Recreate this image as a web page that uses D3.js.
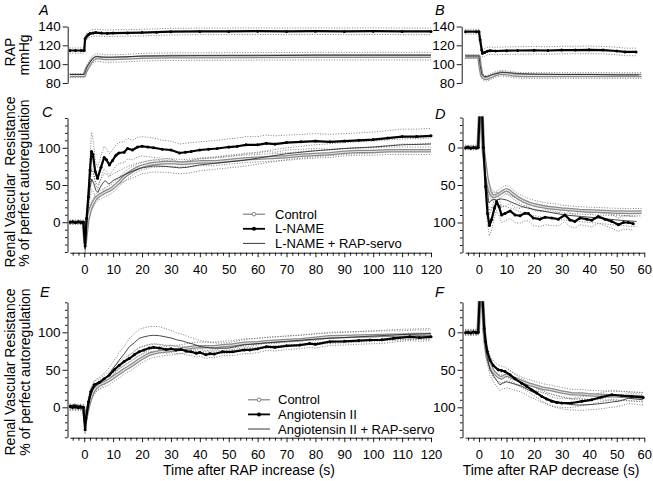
<!DOCTYPE html>
<html><head><meta charset="utf-8">
<script src="https://cdn.jsdelivr.net/npm/d3@7"></script>
<style>
body{margin:0;background:#fff}
svg text{font-family:"Liberation Sans",Arial,Helvetica,sans-serif;fill:#000}
</style>
</head><body>
<svg id="c" width="653" height="481"></svg>
<script>
// ---------- DATA: [time (s), value, SE] ----------
// Panel A: RAP (mmHg) after RAP increase
const aLname = [[-5,114.5,2.7],[-3,114.5,2.7],[-1,114.5,2.7],[0,114.5,2.7],[0.3,127,3.5],[1,130,3.5],[1.5,131.5,3.5],[2,132.5,3.5],[3,133,3.5],[4,133.5,3.5],[6,133,3.5],[8,132.8,3.5],[10,133,3.5],[15,133.2,3.5],[20,133.5,3.5],[25,134,3.5],[30,134.5,3.5],[40,134.8,3.5],[50,134.8,3.5],[60,135,3.5],[70,134.8,3.5],[80,135,3.5],[90,134.8,3.5],[100,135,3.5],[110,134.8,3.5],[120,134.8,3.5]];
const aCtrl = [[-5,88,2],[-3,88,2],[-1,88,2],[0,88,2],[0.3,91,3],[1,96,3.5],[2,101,4],[3,105,4],[4,107,4],[5,107,4],[7,106,4],[10,106,4],[15,106.5,4],[20,107.5,4],[30,108,4],[40,108,4],[60,108.3,4],[80,108.5,4],[100,108.5,4],[120,108.5,4]];
const aServo = [[-5,89],[0,89],[0.5,93],[1,97],[2,102],[3,106],[4,108],[6,107.5],[10,107.5],[20,108.5],[40,109],[60,109],[80,109.5],[100,109.5],[120,109.5]];
// Panel B: RAP (mmHg) after RAP decrease
const bLname = [[-5,134.5,2.5],[-1,134.5,2.5],[0,134.5,2.5],[0.4,126,4],[1,115,4],[1.3,111.5,4],[2,112.5,4],[3,113.8,4],[4,114.3,4],[6,114,4],[10,114.3,4],[14,114.5,4],[20,114.8,4],[25,114.5,4],[30,115,4],[35,115,4],[40,115.2,4],[45,115,4],[50,114,4],[53,113,4],[57,113,4]];
const bCtrl = [[-5,108,2],[-1,108,2],[0,108,2],[0.4,98,3],[1,88,3],[2,85,3],[3,85,3],[4,86.5,3],[6,89,3],[8,90.5,3],[10,90,3],[13,88.5,3],[16,88,3],[20,88,3],[30,88,3],[40,88,3],[50,88,3],[59,88,3]];
const bServo = [[-5,108.5],[0,108.5],[0.4,99],[1,89],[2,86.5],[3,87],[5,89],[8,91],[10,91],[15,90],[20,89.5],[30,89],[40,89],[50,88.5],[58,88.5]];
// Panel C: RVR (% perfect autoregulation) after RAP increase
const cLname = [[-5,0,2],[-4,0.5,2],[-3,-0.5,2],[-2,0.5,2],[-1,-0.5,2],[-0.3,0,2],[0.3,-32,6],[0.8,5,8],[1.4,34,12],[2,70,18],[2.5,95,26],[3,91,22],[3.8,68,16],[4.6,59,15],[5.8,74,15],[6.9,87,15],[7.7,84,15],[8.7,77,15],[9.8,83,14],[11,90,14],[12,93,14],[13.8,94,14],[15,99,14],[16.7,97,13],[18.5,101,13],[20,102,13],[22,101,13],[24,100,13],[27,98,12],[30,97,12],[33,93,12],[35,94,12],[37,95,12],[40,97,11],[43,98,11],[46,99,11],[50,101,11],[53,102,11],[56,104,11],[60,104,11],[63,106,11],[66,105,11],[70,107,10],[75,108,10],[80,109,10],[85,108,10],[90,109,10],[95,110,10],[100,111,10],[105,113,10],[110,115,10],[115,115,10],[120,116,10]];
const cCtrl = [[-5,0,2],[-3,0,2],[-1,0,2],[-0.3,0,2],[0.3,-28,6],[1.2,3,6],[2,16,6],[2.9,25,6],[4,32,6],[5.2,36,6],[6.5,39,6],[7.5,41,6],[8.6,43,6],[9.8,46,6],[11,50,6],[12.1,54,6],[13.2,59,6],[14.4,63,6],[15.5,66,6],[16.7,69,6],[18,72,5],[19,74,5],[20.7,76,5],[22.5,78,5],[25,79,5],[28,80,5],[31,80,5],[34,79,5],[37,80,5],[40,81,5],[45,81,5],[50,83,5],[55,85,5],[60,86,5],[65,87,5],[70,88,5],[75,90,5],[80,91,5],[85,92,5],[90,94,5],[95,95,5],[100,95,5],[105,96,5],[110,96,5],[115,96,5],[120,96,5]];
const cServo = [[-5,0,3],[-2,0,3],[-0.3,0,3],[0.3,-36,6],[1,5,8],[1.5,28,10],[2,45,12],[2.6,58,14],[3.3,52,12],[4,43,10],[4.7,40,10],[5.5,47,10],[6.5,53,10],[7.3,56,10],[8.5,51,10],[10,56,9],[12,60,9],[14,64,9],[17,69,9],[20,73,8],[24,75.5,8],[28,75,8],[33,73,8],[36,74,8],[40,77,8],[45,79,8],[50,81,8],[55,83,8],[60,86,8],[70,92,8],[80,96,8],[90,99,8],[100,101,8],[110,104,8],[120,105,8]];
// Panel D: RVR after RAP decrease
const dLname = [[-5,0.5,2],[-4,-0.5,2],[-3,1,2],[-2,0,2],[-1,0.5,2],[-0.3,0,2],[0.3,-50,10],[1.1,-50,10],[1.6,0,10],[2.4,52,12],[3.1,88,14],[3.8,104,14],[4.6,96,14],[5.6,81,12],[6.4,72,12],[7.3,79,12],[8.2,90,10],[9.4,88,10],[11.3,84.5,10],[13.1,90,10],[14.9,91,10],[16.7,87.5,10],[17.9,88,10],[19.7,94,10],[22.1,95.5,10],[24,93,10],[26.4,94,10],[28.8,95.5,9],[31.2,90,9],[33,96.5,9],[34.8,98.5,9],[36.7,94,9],[39.1,95.5,9],[40.9,97,9],[43.3,92,9],[45.7,95.5,9],[48.2,98.5,9],[50.6,103,9],[52.4,100,9],[54.2,100,9],[56,101.5,9]];
const dCtrl = [[-5,0,2],[-3,0,2],[-1,0,2],[-0.3,0,2],[0.3,-50,8],[1.1,-45,8],[1.6,4,8],[2.2,22,8],[2.8,39,8],[3.4,50,7],[4,59,7],[4.6,63,7],[5.2,65.5,6],[6.4,64,6],[7.3,62,6],[8.2,60,6],[9.1,57.5,6],[10,56.5,6],[11,58,6],[11.9,61,6],[13,64,6],[14.3,67.5,6],[16,71,6],[17.9,74,6],[20,76.5,6],[22.8,78.7,6],[25,80,6],[27.6,81,6],[30,82,5],[33.6,83,5],[36.5,84,5],[39.7,84.5,5],[43,85,5],[45.7,85.4,5],[48.5,86,5],[51.8,86.2,5],[55,86.5,5],[59,86.2,5]];
const dServo = [[-5,0,3],[-1,0,3],[-0.3,0,3],[0.3,-50,8],[1.1,-45,8],[1.6,3,8],[2.2,30,9],[2.8,52,9],[3.6,74,10],[4.6,70,9],[5.5,69,9],[6.4,70,9],[7.3,69,9],[8.2,68.6,9],[10,70,9],[12.5,74,8],[15.5,78.7,8],[20.3,83,8],[25.2,86,8],[31.2,90,7],[37.2,92,7],[43.3,94,7],[49.4,96.4,7],[53,97.5,7],[57.2,98.6,7]];
// Panel E: RVR after RAP increase (Angiotensin II)
const eAng = [[-5,1,3],[-4.5,1.5,3],[-4,0,3],[-3.5,2,3],[-3,0.5,3],[-2.5,1,3],[-2,-0.5,3],[-1.5,1,3],[-1,0,3],[-0.3,0,3],[0.3,-30,6],[0.6,-15,6],[1.5,7.5,6],[2.3,21,6],[3.5,30,5],[5.2,33,5],[6.9,38,5],[8.7,43,5],[10.4,50,5],[12.1,56,5],[13.8,61,5],[15.6,65,5],[17.3,70,5],[19,74,5],[20.7,76.5,5],[22.5,79,5],[24,80,5],[26,79,5],[28.3,77,5],[30,78,5],[31.7,76.5,5],[33.5,77,5],[35.2,75,5],[37,74,5],[38.7,72,5],[40,73,5],[42.1,70,5],[43.5,71.5,5],[45,71,5],[47.9,74,5],[51.3,74,5],[55.4,76.5,5],[57.3,76.5,5],[60,78,5],[63,80.8,5],[66,80,5],[70,82,5],[74.6,83,5],[78,85,5],[80,84,5],[85,87.5,5],[90,88,5],[95,89,5],[98.9,89.7,5],[103,90,5],[107,92,5],[112.7,94,5],[116,93,5],[120,94,5]];
const eCtrl = [[-5,0,3],[-2,0,3],[-0.3,0,3],[0.3,-18,6],[1,-5,6],[2,10,6],[3,20,6],[4,26,6],[5.2,30,6],[7,33,6],[8.7,36.4,6],[10.4,41,6],[12.1,45.3,6],[13.8,50,6],[15.6,54,6],[17.3,58.5,6],[19,63,6],[20.7,67,6],[22.5,70.7,6],[24,72.5,6],[26,74,6],[29,75.5,6],[31.7,76.4,6],[35.2,78.7,6],[38.7,80.8,6],[42,80.8,6],[45,80.8,6],[48,82,6],[51.3,83,6],[55.4,85.3,6],[60,86,6],[63,87.5,6],[70,89,6],[75,90,6],[80,92,6],[85,94,6],[90,94.5,6],[95,95,6],[100,95.5,6],[105,96,6],[110,96,6],[115,97,6],[120,97,6]];
const eServo = [[-5,0,4],[-0.3,0,4],[0.3,-25,8],[1,-8,8],[2,12,8],[3,24,8],[4,29,8],[5.2,32,8],[7,38,8],[8.7,45,8],[10.4,54,9],[12.1,63,10],[14,72,10],[15.6,80.8,11],[17.3,86,12],[19,92,12],[20.7,94,12],[22.5,95.5,12],[24,96,12],[26,95.5,12],[28,94,11],[30,92.5,10],[32,90,9],[34,88.4,9],[36,86,8],[38,84,8],[40,81,8],[45,78.7,7],[50,79,7],[55,83,7],[60,85,7],[70,88,7],[80,91,7],[90,93,7],[100,95,7],[110,97,7],[120,98,7]];
// Panel F: RVR after RAP decrease (Angiotensin II)
const fAng = [[-5,0.5,3],[-4,0,3],[-3,1,3],[-2,-0.5,3],[-1,0.5,3],[-0.3,0,3],[0.3,-50,8],[1.2,-50,8],[1.9,-5,8],[2.4,12.5,7],[3,25.7,7],[4,36.8,6],[5.2,44.3,6],[7,50,6],[8.2,51,6],[9.4,52.3,6],[11.3,56.7,6],[13.1,62,6],[15.5,67.8,6],[17.3,72,6],[19.1,76.6,6],[21,81,6],[22.8,85.5,6],[24.6,89,6],[26.4,92,6],[28.2,93.5,6],[30,94.3,6],[33.6,94.3,6],[37.3,92,6],[40.9,90,6],[44.5,86.4,6],[48.2,83.3,6],[51.8,84.6,6],[55.4,85.5,6],[59.6,86.8,6]];
const fCtrl = [[-5,0,3],[-1,0,3],[-0.3,0,3],[0.3,-50,8],[1.2,-50,8],[1.9,-1,8],[2.4,17,8],[3,32.4,7],[4,43.4,7],[5.2,52.3,7],[7,59,7],[8.2,61,7],[9.4,58,7],[10.5,57,7],[12,60,7],[15.5,65.6,6],[18,69,6],[21,72.2,6],[23,74.5,6],[26.4,76.6,6],[30,79.7,6],[33.6,82,6],[37.3,82.3,6],[39.7,83.3,6],[44,84,6],[48,84.6,6],[52,85.2,6],[55,85.5,6],[59.6,86.2,6]];
const fServo = [[-5,0,4],[-0.3,0,4],[0.3,-50,8],[1.2,-50,8],[1.9,0,8],[2.4,20,8],[3,33,8],[4,50,8],[5,56,8],[5.8,61,8],[7,67,8],[7.6,70,8],[8.5,68,8],[10,66,8],[12,68,8],[15.5,72,8],[18,77,8],[21.5,83,8],[24.5,88,8],[27.6,92,8],[30.5,94.5,8],[33.6,96.5,7],[36.5,97,7],[39.7,96.5,7],[43,95.5,7],[45.7,94.3,7],[48,93,7],[50.6,92,7],[54.2,88,7],[57,89,7],[59.6,90,7]];

// ---------- TICKS / LABELS ----------
const rapTicks = [80,100,120,140];
const rvrTicks = [0,50,100];
const rvrMinor = [-40,-30,-20,-10,10,20,30,40,60,70,80,90,110,120,130,140];
const incTicks = [0,10,20,30,40,50,60,70,80,90,100,110,120];
const incMinor = [-4,-2,2,4,6,8,12,14,16,18,22,24,26,28,32,34,36,38,42,44,46,48,52,54,56,58,62,64,66,68,72,74,76,78,82,84,86,88,92,94,96,98,102,104,106,108,112,114,116,118];
const decTicks = [0,10,20,30,40,50,60];
const decMinor = [-4,-2,2,4,6,8,12,14,16,18,22,24,26,28,32,34,36,38,42,44,46,48,52,54,56,58];
const legendC = ["Control","L-NAME","L-NAME + RAP-servo"];
const legendE = ["Control","Angiotensin II","Angiotensin II + RAP-servo"];

// ---------- SCALES ----------
const svg = d3.select('#c');
const FONT = '"Liberation Sans", Arial, Helvetica, sans-serif';
const xInc = d3.scaleLinear().domain([-5,120]).range([69.8,431]);
const xDec = d3.scaleLinear().domain([-5,60]).range([465.2,644.3]);
const yA = d3.scaleLinear().domain([80,140]).range([83,26.5]);
const yB = d3.scaleLinear().domain([80,140]).range([83,26.5]);
const yC = d3.scaleLinear().domain([-40,140]).range([252,118]);
const yD = d3.scaleLinear().domain([-40,140]).range([117.5,252.5]);
const yE = d3.scaleLinear().domain([-40,140]).range([437.3,302.3]);
const yF = d3.scaleLinear().domain([-40,140]).range([302.3,437.3]);

const defs = svg.append('defs');

function drawPanel(key, x, y, ctrl, drug, servo) {
  const [x0,x1] = x.range();
  const ys = y.range(), ya = Math.min(...ys), yb = Math.max(...ys);
  defs.append('clipPath').attr('id','clip'+key).append('rect')
    .attr('x',x0-1).attr('y',ya-1).attr('width',x1-x0+4).attr('height',yb-ya+2);
  const g = svg.append('g').attr('clip-path',`url(#clip${key})`);
  const line = d3.line().x(d=>x(d[0])).y(d=>y(d[1]));
  const band = (data, sgn) => d3.line().x(d=>x(d[0])).y(d=>y(d[1]+sgn*d[2]))(data);
  [ctrl, servo, drug].forEach(s => {
    if (s[0].length < 3) return;
    [1,-1].forEach(sg => g.append('path').attr('d', band(s, sg)).attr('fill','none')
      .attr('stroke','#6e6e6e').attr('stroke-width',0.9).attr('stroke-dasharray','1,1.6'));
  });
  g.append('path').attr('d',line(ctrl)).attr('fill','none').attr('stroke','#8a8a8a').attr('stroke-width',3.6).attr('stroke-linejoin','round');
  g.append('path').attr('d',line(ctrl)).attr('fill','none').attr('stroke','#e4e4e4').attr('stroke-width',1.1).attr('stroke-linejoin','round');
  g.append('path').attr('d',line(servo)).attr('fill','none').attr('stroke','#1a1a1a').attr('stroke-width',0.8);
  g.append('path').attr('d',line(drug)).attr('fill','none').attr('stroke','#000').attr('stroke-width',2.2).attr('stroke-linejoin','round');
  g.selectAll('circle.m').data(drug).join('circle').attr('class','m')
    .attr('cx',d=>x(d[0])).attr('cy',d=>y(d[1])).attr('r',1.5).attr('fill','#000');
}

function styleAxis(g, fs) {
  g.attr('font-family',FONT).attr('font-size',fs);
  g.selectAll('path,line').attr('stroke','#000').attr('stroke-width',0.9);
  g.selectAll('text').attr('fill','#000');
}
function yAxis(x0, y, majors, minors) {
  const g = svg.append('g').attr('transform',`translate(${x0},0)`);
  g.call(d3.axisLeft(y).tickValues(majors).tickSize(5).tickSizeOuter(0).tickPadding(2));
  if (minors) {
    const m = g.append('g').call(d3.axisLeft(y).tickValues(minors).tickSize(2.5).tickFormat(''));
    m.select('.domain').remove();
  }
  styleAxis(g, 13.5);
}
function xAxis(y0, x, majors, minors) {
  const g = svg.append('g').attr('transform',`translate(0,${y0})`);
  g.call(d3.axisBottom(x).tickValues(majors).tickSize(4.5).tickSizeOuter(0).tickPadding(7.5));
  const m = g.append('g').call(d3.axisBottom(x).tickValues(minors).tickSize(3).tickFormat(''));
  m.select('.domain').remove();
  styleAxis(g, 13);
}

drawPanel('A', xInc, yA, aCtrl, aLname, aServo);
drawPanel('B', xDec, yB, bCtrl, bLname, bServo);
drawPanel('C', xInc, yC, cCtrl, cLname, cServo);
drawPanel('D', xDec, yD, dCtrl, dLname, dServo);
drawPanel('E', xInc, yE, eCtrl, eAng, eServo);
drawPanel('F', xDec, yF, fCtrl, fAng, fServo);

yAxis(67.7, yA, rapTicks, null);
yAxis(461.7, yB, rapTicks, null);
yAxis(67.5, yC, rvrTicks, rvrMinor);
yAxis(462.5, yD, rvrTicks, rvrMinor);
yAxis(67.5, yE, rvrTicks, rvrMinor);
yAxis(462.5, yF, rvrTicks, rvrMinor);
xAxis(252.7, xInc, incTicks, incMinor);
xAxis(252.7, xDec, decTicks, decMinor);
xAxis(437.7, xInc, incTicks, incMinor);
xAxis(437.7, xDec, decTicks, decMinor);

// panel letters
[['A',39,15],['B',435,15],['C',42,117],['D',435,119],['E',40,297],['F',435,297]].forEach(([t,x,y]) =>
  svg.append('text').attr('x',x).attr('y',y).attr('font-size',14.5).attr('font-style','italic').text(t));

// axis titles
function vText(txt, x, y) {
  svg.append('text').attr('transform',`translate(${x},${y}) rotate(-90)`).attr('text-anchor','middle')
    .attr('font-size',14).style('white-space','pre').text(txt);
}
vText('RAP', 15, 52);
vText('mmHg', 29, 55);
vText('Renal Vascular  Resistance', 15, 182);
vText('% of perfect autoregulation', 29, 183);
vText('Renal Vascular Resistance', 15, 372);
vText('% of perfect autoregulation', 30, 372);
svg.append('text').attr('x',249).attr('y',475).attr('text-anchor','middle').attr('font-size',14).text('Time after RAP increase (s)');
svg.append('text').attr('x',551).attr('y',475).attr('text-anchor','middle').attr('font-size',14).text('Time after RAP decrease (s)');

// legends
function legend(x0, x1, tx, rows, labels) {
  const xm = (x0+x1)/2;
  rows.forEach((ry,i) => {
    if (i===0) {
      svg.append('line').attr('x1',x0).attr('x2',x1).attr('y1',ry).attr('y2',ry).attr('stroke','#777').attr('stroke-width',1.1);
      svg.append('circle').attr('cx',xm).attr('cy',ry).attr('r',1.8).attr('fill','#fff').attr('stroke','#777').attr('stroke-width',0.9);
    } else if (i===1) {
      svg.append('line').attr('x1',x0).attr('x2',x1).attr('y1',ry).attr('y2',ry).attr('stroke','#000').attr('stroke-width',1.8);
      svg.append('circle').attr('cx',xm).attr('cy',ry).attr('r',2).attr('fill','#000');
    } else {
      svg.append('line').attr('x1',x0).attr('x2',x1).attr('y1',ry).attr('y2',ry).attr('stroke','#222').attr('stroke-width',0.9);
    }
    svg.append('text').attr('x',tx).attr('y',ry).attr('dy','0.36em').attr('font-size',13).text(labels[i]);
  });
}
legend(243, 265, 275, [214.2,228.8,243.4], legendC);
legend(248, 270, 278, [399.8,414.4,429], legendE);
</script>
</body></html>
